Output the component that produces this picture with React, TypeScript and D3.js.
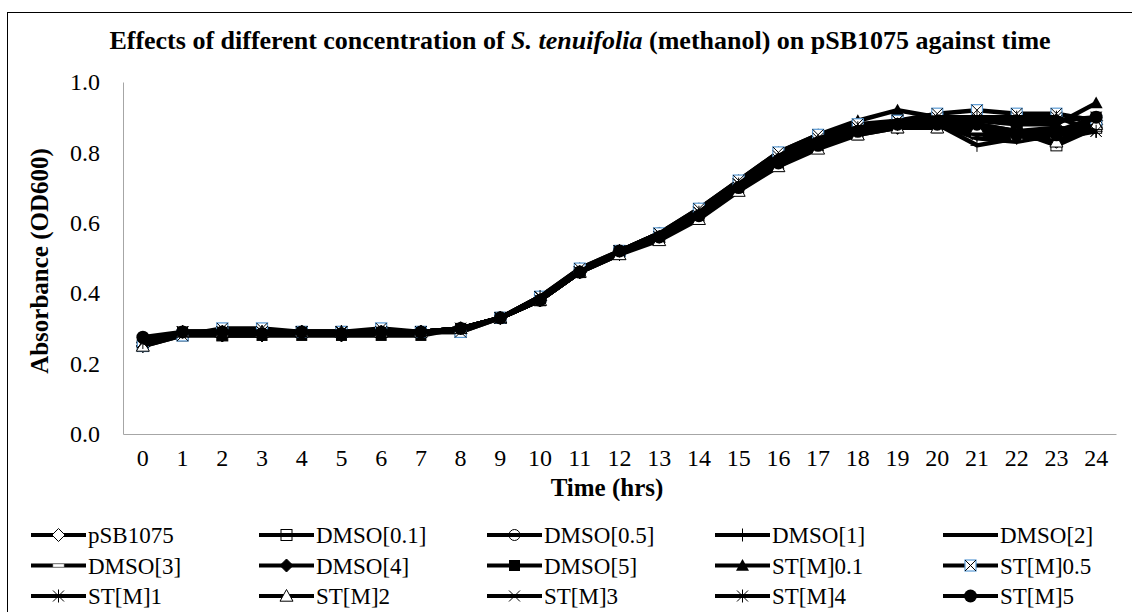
import React, { useEffect, useRef } from 'react';
import * as d3 from 'd3';

const hours = ['0','1','2','3','4','5','6','7','8','9','10','11','12','13','14','15','16','17','18','19','20','21','22','23','24'];
const yTicks = [0, 0.2, 0.4, 0.6, 0.8, 1.0];

const seriesNames = ['pSB1075','DMSO[0.1]','DMSO[0.5]','DMSO[1]','DMSO[2]','DMSO[3]','DMSO[4]','DMSO[5]','ST[M]0.1','ST[M]0.5','ST[M]1','ST[M]2','ST[M]3','ST[M]4','ST[M]5'];

const pSB1075 = [0.25,0.29,0.28,0.29,0.29,0.29,0.29,0.29,0.30,0.33,0.38,0.46,0.52,0.56,0.62,0.70,0.77,0.82,0.86,0.88,0.88,0.87,0.85,0.83,0.88];
const dmso01 = [0.25,0.28,0.28,0.29,0.29,0.29,0.29,0.29,0.29,0.33,0.38,0.46,0.52,0.56,0.63,0.71,0.78,0.83,0.87,0.89,0.89,0.88,0.86,0.82,0.87];
const dmso05 = [0.26,0.29,0.29,0.29,0.29,0.29,0.29,0.29,0.30,0.33,0.39,0.46,0.52,0.57,0.63,0.71,0.78,0.83,0.87,0.88,0.89,0.86,0.85,0.84,0.88];
const dmso1 = [0.26,0.29,0.29,0.29,0.29,0.29,0.29,0.29,0.30,0.33,0.38,0.46,0.51,0.56,0.62,0.70,0.77,0.82,0.86,0.87,0.88,0.82,0.84,0.84,0.86];
const dmso2 = [0.26,0.29,0.29,0.29,0.29,0.29,0.29,0.29,0.30,0.33,0.38,0.46,0.52,0.56,0.62,0.70,0.77,0.82,0.86,0.87,0.88,0.84,0.83,0.85,0.87];
const dmso3 = [0.26,0.29,0.29,0.29,0.29,0.29,0.29,0.29,0.30,0.33,0.38,0.46,0.52,0.56,0.62,0.70,0.77,0.82,0.86,0.88,0.88,0.85,0.84,0.84,0.88];
const dmso4 = [0.25,0.29,0.28,0.28,0.29,0.28,0.29,0.29,0.30,0.33,0.38,0.46,0.52,0.56,0.62,0.70,0.77,0.82,0.86,0.87,0.88,0.87,0.85,0.85,0.89];
const dmso5 = [0.26,0.29,0.28,0.28,0.28,0.28,0.28,0.28,0.30,0.33,0.38,0.46,0.51,0.56,0.62,0.70,0.76,0.82,0.85,0.87,0.87,0.88,0.86,0.86,0.90];
const stm01 = [0.26,0.29,0.29,0.29,0.29,0.29,0.29,0.29,0.30,0.33,0.39,0.47,0.52,0.57,0.64,0.72,0.80,0.85,0.89,0.92,0.90,0.89,0.88,0.88,0.94];
const stm05 = [0.25,0.28,0.30,0.30,0.29,0.29,0.30,0.29,0.29,0.33,0.39,0.47,0.52,0.57,0.64,0.72,0.80,0.85,0.88,0.89,0.91,0.92,0.91,0.91,0.89];
const stm1 = [0.26,0.29,0.29,0.29,0.29,0.29,0.29,0.29,0.30,0.33,0.38,0.46,0.52,0.56,0.62,0.70,0.77,0.82,0.86,0.87,0.88,0.85,0.86,0.87,0.86];
const stm2 = [0.25,0.29,0.29,0.29,0.29,0.29,0.29,0.29,0.30,0.33,0.38,0.46,0.51,0.55,0.61,0.69,0.76,0.81,0.85,0.87,0.87,0.87,0.85,0.83,0.88];
const stm3 = [0.26,0.29,0.29,0.29,0.29,0.29,0.29,0.29,0.30,0.33,0.39,0.46,0.52,0.57,0.63,0.71,0.79,0.84,0.87,0.89,0.90,0.90,0.89,0.89,0.90];
const stm4 = [0.26,0.29,0.29,0.29,0.29,0.29,0.29,0.29,0.30,0.33,0.39,0.46,0.52,0.56,0.63,0.71,0.78,0.83,0.87,0.88,0.89,0.90,0.90,0.90,0.86];
const stm5 = [0.275,0.29,0.29,0.285,0.29,0.285,0.29,0.29,0.30,0.33,0.38,0.46,0.52,0.56,0.62,0.70,0.77,0.82,0.86,0.88,0.88,0.88,0.85,0.85,0.90];

const seriesValues = [pSB1075, dmso01, dmso05, dmso1, dmso2, dmso3, dmso4, dmso5, stm01, stm05, stm1, stm2, stm3, stm4, stm5];
const markerTypes = ['diamondOpen','squareOpen','circleOpen','plus','dash','dashOpen','diamond','square','triangle','squareX','star','triangleOpen','x','star','circle'];

const FONT = '"Liberation Serif", "Times New Roman", serif';

function drawMarker(g: any, type: string, cx: number, cy: number, s: number) {
  const h = s / 2;
  const m = g.append('g').attr('transform', `translate(${cx},${cy})`);
  const diamond = `M0,${-h}L${h},0L0,${h}L${-h},0Z`;
  const tri = `M0,${-h}L${h},${h * 0.8}L${-h},${h * 0.8}Z`;
  switch (type) {
    case 'diamondOpen':
      m.append('path').attr('d', diamond).attr('fill', '#fff').attr('stroke', '#000').attr('stroke-width', 1);
      break;
    case 'diamond':
      m.append('path').attr('d', diamond).attr('fill', '#000').attr('stroke', '#000').attr('stroke-width', 1);
      break;
    case 'squareOpen':
      m.append('rect').attr('x', -h + 1).attr('y', -h + 1).attr('width', s - 2).attr('height', s - 2).attr('fill', 'none').attr('stroke', '#000').attr('stroke-width', 1);
      break;
    case 'square':
      m.append('rect').attr('x', -h + 1).attr('y', -h + 1).attr('width', s - 2).attr('height', s - 2).attr('fill', '#000');
      break;
    case 'circleOpen':
      m.append('circle').attr('r', h - 1).attr('fill', 'none').attr('stroke', '#000').attr('stroke-width', 1);
      break;
    case 'circle':
      m.append('circle').attr('r', h).attr('fill', '#000');
      break;
    case 'plus':
      m.append('path').attr('d', `M0,${-h}V${h}M${-h},0H${h}`).attr('stroke', '#000').attr('stroke-width', 1);
      break;
    case 'dash':
      m.append('path').attr('d', `M${-h},0H${h}`).attr('stroke', '#000').attr('stroke-width', 2);
      break;
    case 'dashOpen':
      m.append('rect').attr('x', -h + 1).attr('y', -1.5).attr('width', s - 2).attr('height', 3).attr('fill', '#fff').attr('stroke', '#999').attr('stroke-width', 0.6);
      break;
    case 'triangle':
      m.append('path').attr('d', tri).attr('fill', '#000');
      break;
    case 'triangleOpen':
      m.append('path').attr('d', tri).attr('fill', '#fff').attr('stroke', '#000').attr('stroke-width', 1);
      break;
    case 'squareX':
      m.append('rect').attr('x', -h + 1).attr('y', -h + 1).attr('width', s - 2).attr('height', s - 2).attr('fill', '#fff').attr('stroke', '#5B9BD5').attr('stroke-width', 1.2);
      m.append('path').attr('d', `M${-h + 1},${-h + 1}L${h - 1},${h - 1}M${h - 1},${-h + 1}L${-h + 1},${h - 1}`).attr('stroke', '#000').attr('stroke-width', 1);
      break;
    case 'x':
      m.append('path').attr('d', `M${-h + 1},${-h + 1}L${h - 1},${h - 1}M${h - 1},${-h + 1}L${-h + 1},${h - 1}`).attr('stroke', '#000').attr('stroke-width', 1);
      break;
    case 'star':
      m.append('path').attr('d', `M${-h + 1},${-h + 1}L${h - 1},${h - 1}M${h - 1},${-h + 1}L${-h + 1},${h - 1}M0,${-h}V${h}`).attr('stroke', '#000').attr('stroke-width', 1);
      break;
  }
}

export default function App() {
  const ref = useRef<SVGSVGElement>(null);
  useEffect(() => {
    const svg = d3.select(ref.current);
    svg.selectAll('*').remove();
    const W = 1132, H = 612;
    const left = 123, right = 1116, top = 82, bottom = 434;

    svg.append('rect').attr('width', W).attr('height', H).attr('fill', '#fff');
    svg.append('rect').attr('x', 7.5).attr('y', 12.5).attr('width', W + 10).attr('height', H + 10).attr('fill', 'none').attr('stroke', '#000').attr('stroke-width', 1);

    const x = d3.scaleBand().domain(hours).range([left, right]);
    const y = d3.scaleLinear().domain([0, 1]).range([bottom, top]);

    // title
    const t = svg.append('text').attr('x', 580).attr('y', 49).attr('text-anchor', 'middle')
      .attr('font-family', FONT).attr('font-weight', 'bold').attr('font-size', 26);
    t.append('tspan').text('Effects of different concentration of ');
    t.append('tspan').attr('font-style', 'italic').text('S. tenuifolia');
    t.append('tspan').text(' (methanol) on pSB1075 against time');

    // axes
    const yAxis = svg.append('g').attr('transform', `translate(${left},0)`)
      .call(d3.axisLeft(y).tickValues(yTicks).tickFormat(d3.format('.1f')).tickSize(0).tickPadding(23));
    yAxis.select('.domain').attr('stroke', '#a6a6a6');
    yAxis.selectAll('text').attr('font-family', FONT).attr('font-size', 24).attr('fill', '#000');

    const xAxis = svg.append('g').attr('transform', `translate(0,${bottom})`)
      .call(d3.axisBottom(x).tickSize(0).tickPadding(15));
    xAxis.select('.domain').attr('stroke', '#a6a6a6');
    xAxis.selectAll('text').attr('font-family', FONT).attr('font-size', 24).attr('fill', '#000');

    svg.append('text').attr('x', 607).attr('y', 496).attr('text-anchor', 'middle')
      .attr('font-family', FONT).attr('font-weight', 'bold').attr('font-size', 25).text('Time (hrs)');
    svg.append('text').attr('transform', `translate(48,261) rotate(-90)`).attr('text-anchor', 'middle')
      .attr('font-family', FONT).attr('font-weight', 'bold').attr('font-size', 25).text('Absorbance (OD600)');

    const line = d3.line<number>().x((_, i) => (x(hours[i]) as number) + x.bandwidth() / 2).y(d => y(d));
    const plot = svg.append('g');
    seriesValues.forEach((vals, si) => {
      const g = plot.append('g');
      g.append('path').attr('d', line(vals) as string).attr('fill', 'none').attr('stroke', '#000').attr('stroke-width', 4.5).attr('stroke-linejoin', 'round');
      vals.forEach((v, i) => drawMarker(g, markerTypes[si], (x(hours[i]) as number) + x.bandwidth() / 2, y(v), 13));
    });

    // legend
    const lg = svg.append('g');
    lg.append('rect').attr('x', 8).attr('y', 501).attr('width', W).attr('height', H - 501).attr('fill', '#fff');
    seriesNames.forEach((name, i) => {
      const col = i % 5, row = Math.floor(i / 5);
      const lx = 31 + col * 228, ly = 535 + row * 30.5;
      const e = lg.append('g');
      e.append('line').attr('x1', lx).attr('x2', lx + 55).attr('y1', ly).attr('y2', ly).attr('stroke', '#000').attr('stroke-width', 4);
      drawMarker(e, markerTypes[i], lx + 27.5, ly, 13);
      e.append('text').attr('x', lx + 57).attr('y', ly + 8).attr('font-family', FONT).attr('font-size', 23).text(name);
    });
  }, []);
  return <svg ref={ref} width={1132} height={612} style={{ position: 'absolute', left: 0, top: 0, display: 'block' }} />;
}
